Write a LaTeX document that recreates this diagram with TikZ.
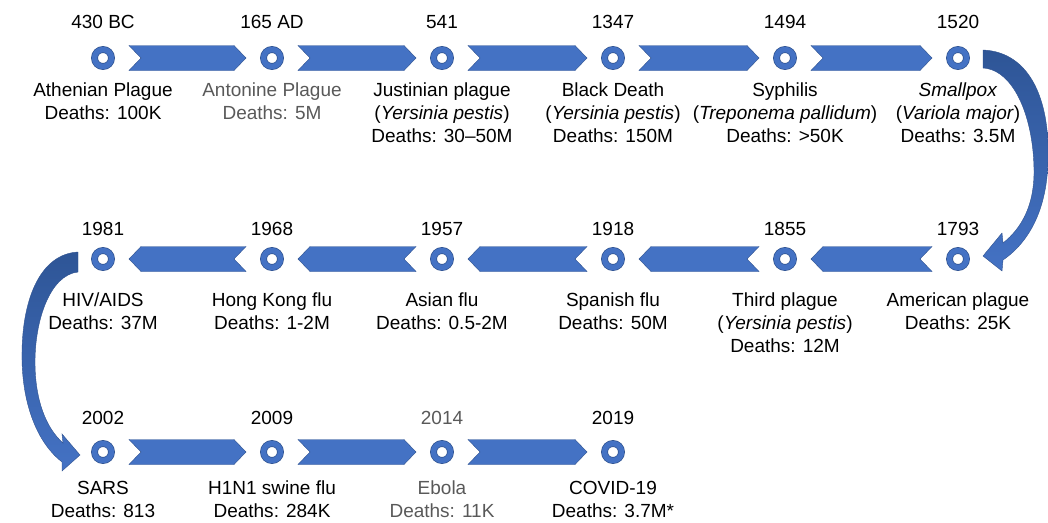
\documentclass[tikz,border=0pt]{standalone}
\usepackage{fontspec}
\setmainfont{Liberation Sans}
\usetikzlibrary{calc}
\definecolor{blueA}{HTML}{4472C4}
\definecolor{blueB}{HTML}{2F528F}
\definecolor{blueC}{HTML}{2E5596}
\definecolor{grayT}{HTML}{595959}
\newcommand{\chevR}[2]{\path[chev] ($(#1)+(26,-12.5)$) -- ($(#2)+(-38,-12.5)$) -- ($(#2)+(-26,0)$) -- ($(#2)+(-38,12.5)$) -- ($(#1)+(26,12.5)$) -- ($(#1)+(38,0)$) -- cycle;}
\newcommand{\chevL}[2]{\path[chev] ($(#1)+(-26,-12.5)$) -- ($(#2)+(38,-12.5)$) -- ($(#2)+(26,0)$) -- ($(#2)+(38,12.5)$) -- ($(#1)+(-26,12.5)$) -- ($(#1)+(-38,0)$) -- cycle;}
\begin{document}
\begin{tikzpicture}[x=1pt,y=-1pt,
 dot/.style={circle,minimum size=17pt,inner sep=0pt,fill=white,draw=blueB,line width=0.7pt,double=blueA,double distance=5.4pt},
 year/.style={font=\fontsize{19}{23}\selectfont,inner sep=0pt,anchor=center},
 lab/.style={font=\fontsize{19}{23}\selectfont,inner sep=0pt,anchor=north,align=center},
 chev/.style={fill=blueA,draw=blueB,line width=0.4pt},
 bendarrow/.style={top color=blueC,bottom color=blueA,draw=blueB,line width=0.4pt}]
\useasboundingbox (0,0) rectangle (1048,522);

% row 1
\node[dot] (n1) at (103,58) {};
\node[dot] (n2) at (272,58) {};
\node[dot] (n3) at (442,58) {};
\node[dot] (n4) at (613,58) {};
\node[dot] (n5) at (785,58) {};
\node[dot] (n6) at (958,58) {};
% row 2
\node[dot] (n7) at (958,259) {};
\node[dot] (n8) at (785,259) {};
\node[dot] (n9) at (613,259) {};
\node[dot] (n10) at (442,259) {};
\node[dot] (n11) at (272,259) {};
\node[dot] (n12) at (103,259) {};
% row 3
\node[dot] (n13) at (103,452) {};
\node[dot] (n14) at (272,452) {};
\node[dot] (n15) at (442,452) {};
\node[dot] (n16) at (613,452) {};

% years
\node[year] (y1) at (103,22) {430 BC};
\node[year] (y2) at (272,22) {165 AD};
\node[year] (y3) at (442,22) {541};
\node[year] (y4) at (613,22) {1347};
\node[year] (y5) at (785,22) {1494};
\node[year] (y6) at (958,22) {1520};
\node[year] (y7) at (958,229) {1793};
\node[year] (y8) at (785,229) {1855};
\node[year] (y9) at (613,229) {1918};
\node[year] (y10) at (442,229) {1957};
\node[year] (y11) at (272,229) {1968};
\node[year] (y12) at (103,229) {1981};
\node[year] (y13) at (103,418) {2002};
\node[year] (y14) at (272,418) {2009};
\node[year,text=grayT] (y15) at (442,418) {2014};
\node[year] (y16) at (613,418) {2019};

% labels
\node[lab] (l1) at (103,83) {Athenian Plague\\Deaths: 100K};
\node[lab,text=grayT] (l2) at (272,83) {Antonine Plague\\Deaths: 5M};
\node[lab] (l3) at (442,83) {Justinian plague\\(\textit{Yersinia pestis})\\Deaths: 30–50M};
\node[lab] (l4) at (613,83) {Black Death\\(\textit{Yersinia pestis})\\Deaths: 150M};
\node[lab] (l5) at (785,83) {Syphilis\\(\textit{Treponema pallidum})\\Deaths: >50K};
\node[lab] (l6) at (958,83) {\textit{Smallpox}\\(\textit{Variola major})\\Deaths: 3.5M};
\node[lab] (l7) at (958,293) {American plague\\Deaths: 25K};
\node[lab] (l8) at (785,293) {Third plague\\(\textit{Yersinia pestis})\\Deaths: 12M};
\node[lab] (l9) at (613,293) {Spanish flu\\Deaths: 50M};
\node[lab] (l10) at (442,293) {Asian flu\\Deaths: 0.5-2M};
\node[lab] (l11) at (272,293) {Hong Kong flu\\Deaths: 1-2M};
\node[lab] (l12) at (103,293) {HIV/AIDS\\Deaths: 37M};
\node[lab] (l13) at (103,481) {SARS\\Deaths: 813};
\node[lab] (l14) at (272,481) {H1N1 swine flu\\Deaths: 284K};
\node[lab,text=grayT] (l15) at (442,481) {Ebola\\Deaths: 11K};
\node[lab] (l16) at (613,481) {COVID-19\\Deaths: 3.7M*};

% chevrons
\chevR{n1}{n2}
\chevR{n2}{n3}
\chevR{n3}{n4}
\chevR{n4}{n5}
\chevR{n5}{n6}
\chevL{n7}{n8}
\chevL{n8}{n9}
\chevL{n9}{n10}
\chevL{n10}{n11}
\chevL{n11}{n12}
\chevR{n13}{n14}
\chevR{n14}{n15}
\chevR{n15}{n16}

% curved arrow right
\path[bendarrow] ($(n6)+(25,-8)$) .. controls ($(n6)+(72,-6)$) and ($(n6)+(92,42)$) .. ($(n6)+(90,102)$)
  .. controls ($(n7)+(89,-44)$) and ($(n7)+(67,-14)$) .. ($(n7)+(45,1)$)
  -- ($(n7)+(44,12)$) -- ($(n7)+(25,-3)$) -- ($(n7)+(44,-26)$) -- ($(n7)+(45,-16)$)
  .. controls ($(n7)+(64,-31)$) and ($(n7)+(76,-54)$) .. ($(n6)+(76,114)$)
  .. controls ($(n6)+(76,62)$) and ($(n6)+(57,12)$) .. ($(n6)+(25,10)$) -- cycle;

% curved arrow left
\path[bendarrow] ($(n12)+(-25,-7)$) .. controls ($(n12)+(-63,-5)$) and ($(n12)+(-82,41)$) .. ($(n12)+(-81,101)$)
  .. controls ($(n13)+(-80,-42)$) and ($(n13)+(-63,-7)$) .. ($(n13)+(-41,10)$)
  -- ($(n13)+(-41,19)$) -- ($(n13)+(-23,3)$) -- ($(n13)+(-41,-18)$) -- ($(n13)+(-40,-9)$)
  .. controls ($(n13)+(-57,-24)$) and ($(n13)+(-68,-52)$) .. ($(n12)+(-68,103)$)
  .. controls ($(n12)+(-68,61)$) and ($(n12)+(-53,16)$) .. ($(n12)+(-25,13)$) -- cycle;
\end{tikzpicture}
\end{document}
